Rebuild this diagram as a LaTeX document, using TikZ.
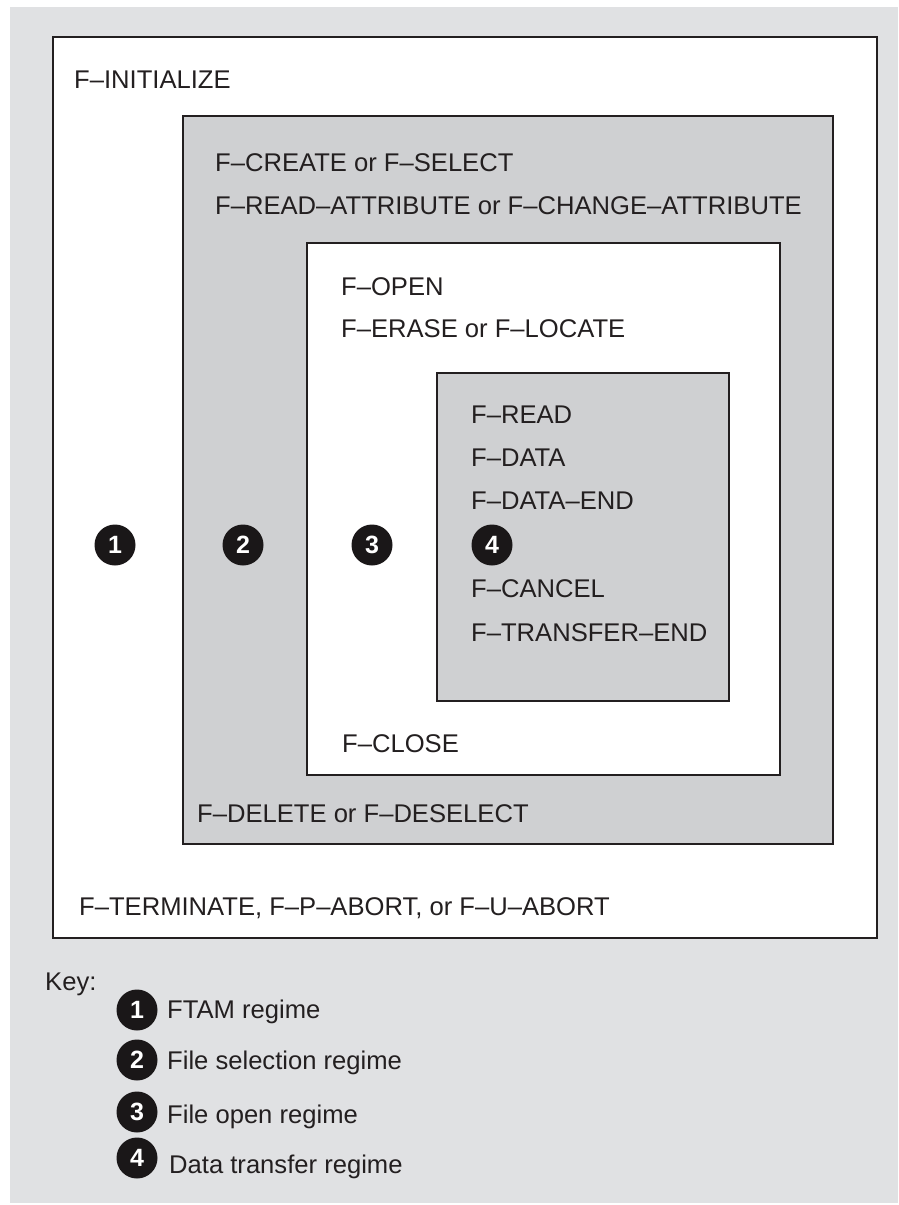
\documentclass[tikz,border=0pt]{standalone}
\usepackage{fontspec}
\setmainfont{Liberation Sans}
\definecolor{bggray}{HTML}{E0E1E3}
\definecolor{boxgray}{HTML}{CFD0D2}
\definecolor{linecol}{HTML}{231F20}
\definecolor{dotcol}{HTML}{1A1718}
\begin{document}
\begin{tikzpicture}[x=1pt,y=-1pt,
  regime/.style={draw=linecol,line width=2.6pt},
  lbl/.style={anchor=base west,inner sep=0pt,text=linecol,font=\fontsize{25.6}{30}\selectfont},
  num/.style={circle,fill=dotcol,minimum size=41pt,inner sep=0pt,text=white,font=\fontsize{25}{28}\selectfont\bfseries}]
\useasboundingbox (0,0) rectangle (898,1205);
\fill[white] (0,0) rectangle (898,1205);
\fill[bggray] (10,7) rectangle (898,1203);
% regimes
\draw[regime,fill=white] (53,37) rectangle (877,938);
\draw[regime,fill=boxgray] (183,116) rectangle (833,844);
\draw[regime,fill=white] (307,243) rectangle (780,775);
\draw[regime,fill=boxgray] (437,373) rectangle (729,701);
% texts
\node[lbl] (init) at (74,88) {F–INITIALIZE};
\node[lbl] (create) at (215,171) {F–CREATE or F–SELECT};
\node[lbl] (attr) at (215,214) {F–READ–ATTRIBUTE or F–CHANGE–ATTRIBUTE};
\node[lbl] (open) at (341,295) {F–OPEN};
\node[lbl] (erase) at (341,337) {F–ERASE or F–LOCATE};
\node[lbl] (read) at (471,423) {F–READ};
\node[lbl] (data) at (471,466) {F–DATA};
\node[lbl] (dataend) at (471,509) {F–DATA–END};
\node[lbl] (cancel) at (471,597) {F–CANCEL};
\node[lbl] (tend) at (471,641) {F–TRANSFER–END};
\node[lbl] (close) at (342,752) {F–CLOSE};
\node[lbl] (delete) at (197,822) {F–DELETE or F–DESELECT};
\node[lbl] (term) at (79,915) {F–TERMINATE, F–P–ABORT, or F–U–ABORT};
% regime numbers
\node[num] (n1) at (115,545) {1};
\node[num] (n2) at (243,545) {2};
\node[num] (n3) at (372,545) {3};
\node[num] (n4) at (492,545) {4};
% key
\node[lbl] (key) at (45,990) {Key:};
\node[num] (k1) at (137,1010) {1};
\node[num] (k2) at (137,1060) {2};
\node[num] (k3) at (137,1112) {3};
\node[num] (k4) at (137,1158) {4};
\node[lbl] (t1) at (167,1018) {FTAM regime};
\node[lbl] (t2) at (167,1069) {File selection regime};
\node[lbl] (t3) at (167,1123) {File open regime};
\node[lbl] (t4) at (169,1173) {Data transfer regime};
\end{tikzpicture}
\end{document}
